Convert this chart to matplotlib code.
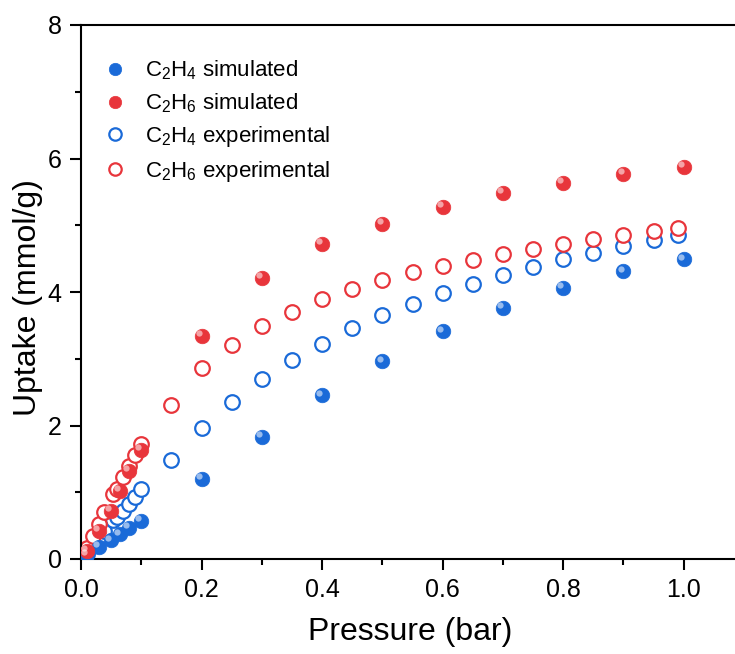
import matplotlib
matplotlib.use('Agg')
import matplotlib.pyplot as plt
import matplotlib.transforms as mtransforms

plt.rcParams['font.family'] = ['Liberation Sans', 'DejaVu Sans']
plt.rcParams['mathtext.default'] = 'regular'

# simulated isotherms
p_sim = [0.01, 0.03, 0.05, 0.065, 0.08, 0.1, 0.2, 0.3, 0.4, 0.5, 0.6, 0.7, 0.8, 0.9, 1.0]
c2h4_sim = [0.06, 0.18, 0.28, 0.37, 0.47, 0.57, 1.20, 1.83, 2.45, 2.96, 3.41, 3.76, 4.06, 4.31, 4.49]
c2h6_sim = [0.12, 0.42, 0.72, 1.02, 1.32, 1.63, 3.34, 4.21, 4.72, 5.02, 5.28, 5.48, 5.64, 5.77, 5.88]

# experimental isotherms
p_exp = [0.01, 0.02, 0.03, 0.038, 0.053, 0.06, 0.07, 0.08, 0.09, 0.1,
         0.15, 0.2, 0.25, 0.3, 0.35, 0.4, 0.45, 0.5, 0.55, 0.6, 0.65,
         0.7, 0.75, 0.8, 0.85, 0.9, 0.95, 0.99]
c2h4_exp = [0.08, 0.2, 0.32, 0.42, 0.58, 0.63, 0.72, 0.82, 0.93, 1.05,
            1.49, 1.96, 2.35, 2.69, 2.98, 3.22, 3.46, 3.65, 3.82, 3.98, 4.12,
            4.26, 4.38, 4.49, 4.59, 4.69, 4.78, 4.86]
c2h6_exp = [0.17, 0.35, 0.53, 0.70, 0.98, 1.05, 1.23, 1.40, 1.56, 1.72,
            2.30, 2.86, 3.20, 3.49, 3.70, 3.89, 4.04, 4.18, 4.30, 4.39, 4.48,
            4.57, 4.65, 4.72, 4.80, 4.86, 4.92, 4.96]

blue = '#1a6ad8'
red = '#e8353b'

fig = plt.figure(figsize=(7.35, 6.54), dpi=100)
ax = fig.add_axes([81 / 735, 95 / 654, 663 / 735, 534 / 654])

hl = mtransforms.offset_copy(ax.transData, fig=fig, x=-2.0, y=2.0, units='points')

ax.plot(p_exp, c2h4_exp, 'o', ms=10.5, mfc='white', mec=blue, mew=1.6,
        label=r'C$_2$H$_4$ experimental', zorder=2)
ax.plot(p_exp, c2h6_exp, 'o', ms=10.5, mfc='white', mec=red, mew=1.6,
        label=r'C$_2$H$_6$ experimental', zorder=2)

for y, c, lab in [(c2h4_sim, blue, r'C$_2$H$_4$ simulated'),
                  (c2h6_sim, red, r'C$_2$H$_6$ simulated')]:
    ax.plot(p_sim, y, 'o', ms=10.5, mfc=c, mec=c, mew=0.5, label=lab, zorder=3)
    ax.plot(p_sim, y, 'o', ms=4.5, mfc='white', mec='none', alpha=0.55,
            transform=hl, zorder=4)

ax.set_xlim(0, 1.1)
ax.set_ylim(0, 8)
ax.set_xticks([0.0, 0.2, 0.4, 0.6, 0.8, 1.0])
ax.set_xticks([0.1, 0.3, 0.5, 0.7, 0.9], minor=True)
ax.set_yticks([0, 2, 4, 6, 8])
ax.set_yticks([1, 3, 5, 7], minor=True)
ax.set_xticklabels(['0.0', '0.2', '0.4', '0.6', '0.8', '1.0'])

ax.tick_params(which='major', direction='out', length=8, width=1.5, labelsize=18, pad=6)
ax.tick_params(which='minor', direction='out', length=4, width=1.5)
for s in ax.spines.values():
    s.set_linewidth(1.5)
ax.spines['right'].set_visible(False)

ax.set_xlabel('Pressure (bar)', fontsize=23)
ax.set_ylabel('Uptake (mmol/g)', fontsize=23)
ax.xaxis.set_label_coords(0.496, -0.108)
ax.yaxis.set_label_coords(-0.057, 0.49)

handles, labels = ax.get_legend_handles_labels()
order = [2, 3, 0, 1]
ax.legend([handles[i] for i in order], [labels[i] for i in order],
          loc='upper left', bbox_to_anchor=(-0.013, 0.975), frameon=False,
          fontsize=16, handletextpad=0.35, labelspacing=0.42, markerscale=0.85)

fig.savefig('out.png', dpi=100)
